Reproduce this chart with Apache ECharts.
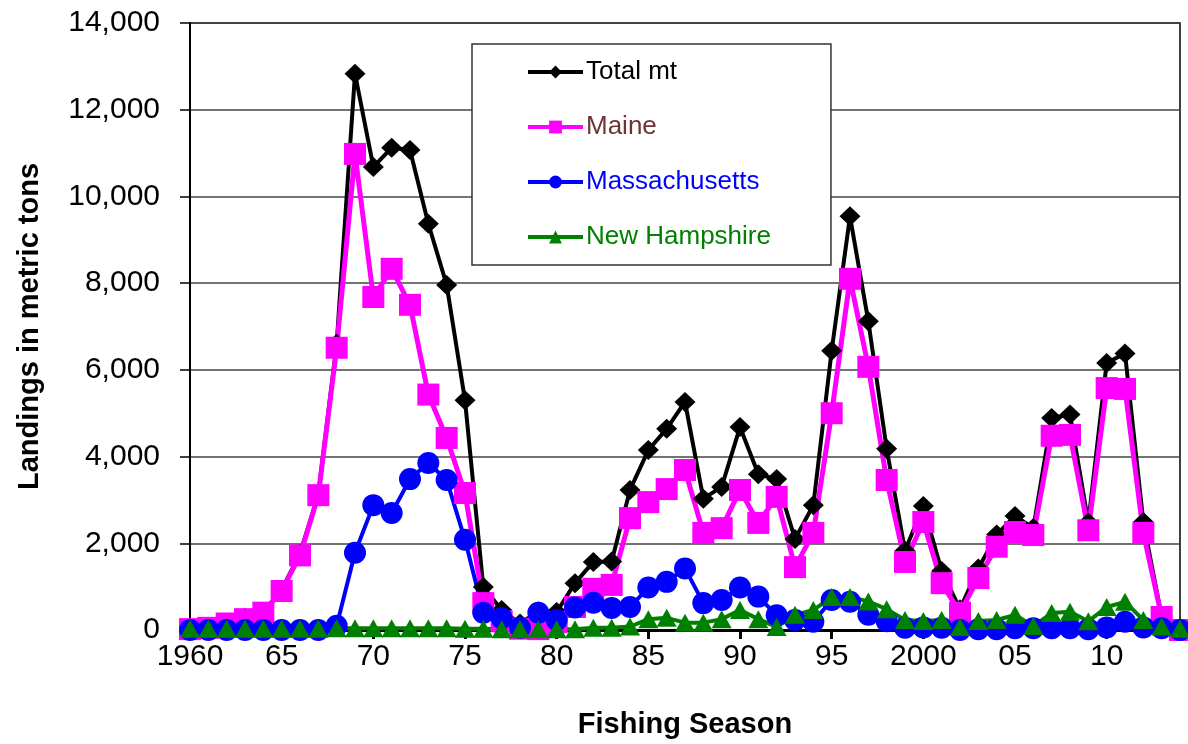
<!DOCTYPE html>
<html>
<head>
<meta charset="utf-8">
<script src="https://cdn.jsdelivr.net/npm/echarts@6/dist/echarts.min.js"></script>
<style>
html,body{margin:0;padding:0;background:#fff;}
#chart{width:1188px;height:744px;}
</style>
</head>
<body>
<div id="chart"></div>
<script>
const years = ['1960','1961','1962','1963','1964','1965','1966','1967','1968','1969',
  '1970','1971','1972','1973','1974','1975','1976','1977','1978','1979',
  '1980','1981','1982','1983','1984','1985','1986','1987','1988','1989',
  '1990','1991','1992','1993','1994','1995','1996','1997','1998','1999',
  '2000','2001','2002','2003','2004','2005','2006','2007','2008','2009',
  '2010','2011','2012','2013','2014'];

const tickYears  = ['1960','1965','1970','1975','1980','1985','1990','1995','2000','2005','2010'];
const tickLabels = ['1960','65','70','75','80','85','90','95','2000','05','10'];

const totalMt = [30,60,170,280,420,930,1760,3130,6600,12830,
  10680,11120,11070,9370,7960,5300,990,460,150,430,
  415,1080,1570,1580,3230,4150,4640,5260,3030,3300,
  4680,3590,3480,2100,2880,6440,9540,7120,4180,1830,
  2860,1360,480,1420,2200,2630,2350,4890,4970,2480,
  6160,6380,2490,300,40];

const maine = [20,50,150,250,400,900,1720,3110,6510,10980,
  7680,8330,7500,5430,4430,3160,620,200,30,20,
  180,530,950,1040,2580,2950,3250,3690,2240,2350,
  3230,2470,3070,1450,2240,5000,8100,6070,3460,1570,
  2490,1080,400,1200,1920,2260,2190,4480,4500,2300,
  5580,5560,2240,300,0];

const massachusetts = [0,0,0,0,0,0,0,0,100,1780,
  2880,2700,3480,3850,3460,2080,400,270,50,400,
  230,520,630,510,530,980,1110,1420,620,690,
  980,770,340,230,190,690,650,350,200,50,
  60,50,0,20,20,40,40,40,40,20,
  60,190,60,40,0];

const newHampshire = [30,30,30,30,30,30,30,30,40,40,
  40,40,40,40,40,30,30,20,20,20,
  20,20,50,50,80,250,280,170,170,250,
  460,250,70,350,460,760,760,660,480,230,
  210,230,70,210,230,350,90,390,420,200,
  530,650,230,80,30];

const FONT = "'Liberation Sans', Arial, sans-serif";
const chart = echarts.init(document.getElementById('chart'), null, {renderer:'canvas'});

const showTick = (idx) => tickYears.indexOf(years[idx]) >= 0;

chart.setOption({
  animation: false,
  backgroundColor: '#fff',
  grid: {left: 190, right: 8, top: 23, bottom: 114, show: true, borderColor: '#000', borderWidth: 1.5, backgroundColor: 'transparent'},
  legend: {
    left: 472, top: 44,
    orient: 'vertical',
    backgroundColor: '#fff',
    borderColor: '#333', borderWidth: 1.5, borderRadius: 0,
    padding: [15, 60, 15, 54],
    itemWidth: 55, itemHeight: 16, itemGap: 29,
    textStyle: {fontFamily: FONT, fontSize: 26, lineHeight: 26, padding: [0,0,0,-2]},
    data: [
      {name: 'Total mt', textStyle: {color: '#000'}, lineStyle: {width: 4, color: '#000'}},
      {name: 'Maine', textStyle: {color: '#6e3434'}, lineStyle: {width: 4, color: '#ff00ff'}},
      {name: 'Massachusetts', textStyle: {color: '#0000ff'}, lineStyle: {width: 4, color: '#0000ff'}},
      {name: 'New Hampshire', textStyle: {color: '#008000'}, lineStyle: {width: 4, color: '#008000'}}
    ]
  },
  xAxis: {
    type: 'category',
    data: years,
    boundaryGap: false,
    name: 'Fishing Season',
    nameLocation: 'middle',
    nameGap: 80,
    nameTextStyle: {fontFamily: FONT, fontSize: 29, fontWeight: 'bold', color: '#000'},
    axisLine: {lineStyle: {color: '#000', width: 3}},
    axisTick: {show: true, interval: (idx) => showTick(idx), length: 9, lineStyle: {color: '#000', width: 3}},
    axisLabel: {
      interval: (idx) => showTick(idx),
      formatter: (v) => { const i = tickYears.indexOf(v); return i >= 0 ? tickLabels[i] : ''; },
      fontFamily: FONT, fontSize: 30, color: '#000', margin: 12
    },
    splitLine: {show: false}
  },
  yAxis: {
    type: 'value',
    min: 0, max: 14000, interval: 2000,
    name: 'Landings in metric tons',
    nameLocation: 'middle',
    nameGap: 146,
    nameTextStyle: {fontFamily: FONT, fontSize: 29, fontWeight: 'bold', color: '#000'},
    axisLine: {show: true, lineStyle: {color: '#000', width: 2}},
    axisTick: {show: true, length: 10, lineStyle: {color: '#000', width: 1.5}},
    axisLabel: {
      formatter: (v) => v.toLocaleString('en-US'),
      fontFamily: FONT, fontSize: 30, color: '#000', margin: 30
    },
    splitLine: {show: true, lineStyle: {color: '#444', width: 1.5}}
  },
  series: [
    {name: 'Total mt', type: 'line', data: totalMt, symbol: 'diamond', symbolSize: [21, 20], showAllSymbol: true,
      lineStyle: {color: '#000', width: 4}, itemStyle: {color: '#000'}},
    {name: 'Maine', type: 'line', data: maine, symbol: 'rect', symbolSize: 22, showAllSymbol: true,
      lineStyle: {color: '#ff00ff', width: 5}, itemStyle: {color: '#ff00ff'}},
    {name: 'Massachusetts', type: 'line', data: massachusetts, symbol: 'circle', symbolSize: 22, showAllSymbol: true,
      lineStyle: {color: '#0000ff', width: 4}, itemStyle: {color: '#0000ff'}},
    {name: 'New Hampshire', type: 'line', data: newHampshire, symbol: 'triangle', symbolSize: [20, 18], showAllSymbol: true,
      lineStyle: {color: '#008000', width: 4}, itemStyle: {color: '#008000'}}
  ]
});
</script>
</body>
</html>
